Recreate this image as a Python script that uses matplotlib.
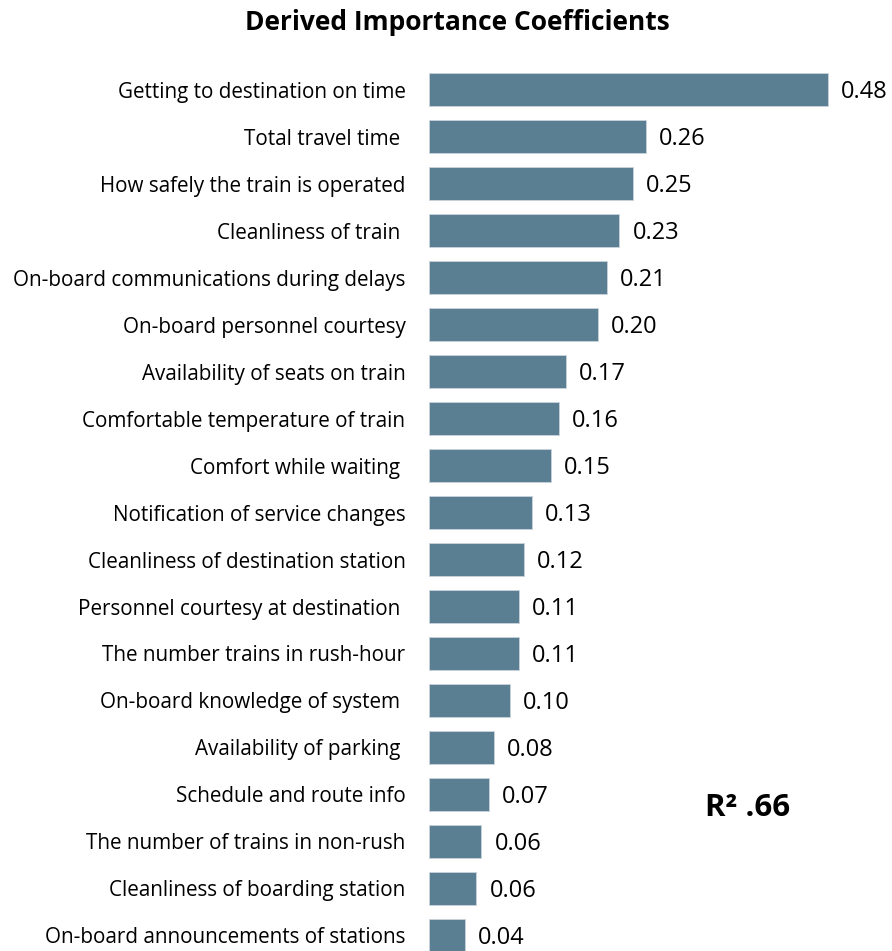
import matplotlib
matplotlib.use('Agg')
import matplotlib.pyplot as plt

plt.rcParams['font.family'] = ['Open Sans', 'DejaVu Sans']

# --------------- data ------------------
attributes = [
    'Getting to destination on time',
    'Total travel time ',
    'How safely the train is operated',
    'Cleanliness of train ',
    'On-board communications during delays',
    'On-board personnel courtesy',
    'Availability of seats on train',
    'Comfortable temperature of train',
    'Comfort while waiting ',
    'Notification of service changes',
    'Cleanliness of destination station',
    'Personnel courtesy at destination ',
    'The number trains in rush-hour',
    'On-board knowledge of system ',
    'Availability of parking ',
    'Schedule and route info',
    'The number of trains in non-rush',
    'Cleanliness of boarding station',
    'On-board announcements of stations',
]
coefficients = [0.48, 0.26, 0.25, 0.23, 0.21, 0.20, 0.17, 0.16, 0.15, 0.13,
                0.12, 0.11, 0.11, 0.10, 0.08, 0.07, 0.06, 0.06, 0.04]
bar_lengths = [0.480, 0.261, 0.245, 0.229, 0.214, 0.203, 0.165, 0.156, 0.147, 0.124,
               0.114, 0.108, 0.108, 0.097, 0.078, 0.072, 0.063, 0.057, 0.043]
r_squared = '.66'

fig = plt.figure(figsize=(8.92, 9.51), dpi=100)
ax = fig.add_axes([429 / 892, 0, 463 / 892, 891 / 951])

ypos = list(range(len(attributes)))
ax.barh(ypos, bar_lengths, height=0.69, color='#5b7f92', edgecolor='#c9d3da', linewidth=0.6)

for y, length, val in zip(ypos, bar_lengths, coefficients):
    ax.annotate(f'{val:.2f}', xy=(length, y), xytext=(9.5, -1.5), textcoords='offset points',
                ha='left', va='center', fontsize=17, color='black')

ax.set_xlim(0, 463 / 831)
ax.set_ylim(18.33, -0.628)
ax.set_yticks(ypos)
ax.set_yticklabels(attributes, fontsize=14.9)
ax.tick_params(axis='y', length=0, pad=17)
ax.set_xticks([])
for s in ax.spines.values():
    s.set_visible(False)

fig.text(457 / 892, 1 - 23 / 951, 'Derived Importance Coefficients', ha='center', va='center',
         fontsize=19, fontweight='bold')
fig.text(748 / 892, 1 - 808 / 951, 'R² ' + r_squared, ha='center', va='center',
         fontsize=22.5, fontweight='bold')

fig.savefig('out.png', dpi=100)
